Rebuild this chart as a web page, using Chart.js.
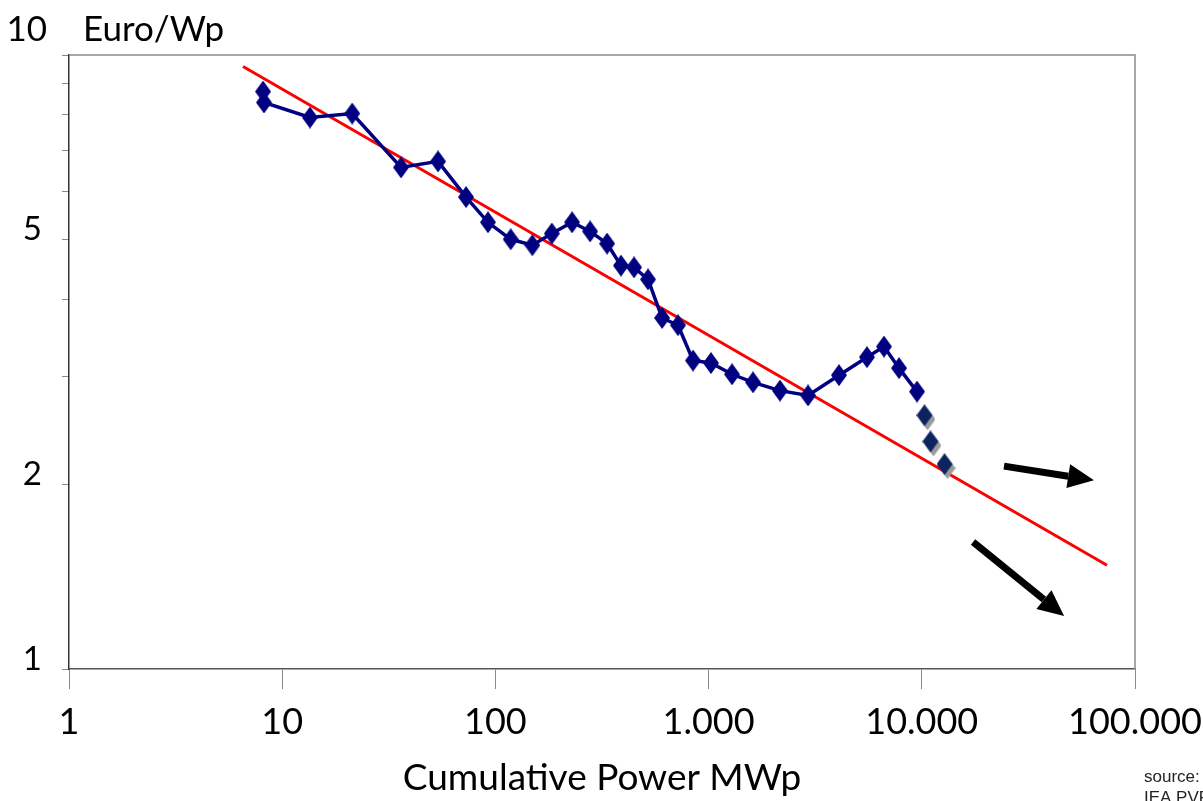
<!DOCTYPE html>
<html>
<head>
<meta charset="utf-8">
<script src="https://cdn.jsdelivr.net/npm/chart.js@4"></script>
<style>
  body { margin: 0; background: #fff; }
  #wrap { width: 1203px; height: 801px; }
</style>
</head>
<body>
<div id="wrap"><canvas id="chart" width="1203" height="801"></canvas></div>
<script>
// axis ticks
const xTicks = [1, 10, 100, 1000, 10000, 100000];
const xTickLabels = ['1', '10', '100', '1.000', '10.000', '100.000'];
const yTicks = [1, 2, 3, 4, 5, 6, 7, 8, 9, 10];
const yTickLabels = ['1', '2', '', '', '5', '', '', '', '', ''];

// measured prices (cumulative MWp vs Euro/Wp)
const power = [8.13, 8.21, 13.5, 21.3, 36.1, 53.8, 72.8, 92.3, 118, 149, 184, 229, 278, 334, 388,
  447, 520, 605, 719, 845, 1026, 1288, 1616, 2162, 2926, 4089, 5533, 6648, 7818, 9496];
const price = [8.72, 8.37, 7.91, 8.03, 6.56, 6.71, 5.87, 5.34, 5.01, 4.90, 5.12, 5.34, 5.16, 4.93, 4.54,
  4.51, 4.31, 3.73, 3.63, 3.18, 3.15, 3.02, 2.93, 2.84, 2.79, 3.01, 3.22, 3.35, 3.09, 2.83];

// latest points, not joined
const projPower = [10460, 11160, 12990];
const projPrice = [2.57, 2.33, 2.14];

// learning curve fit
const fitPower = [6.55, 73900];
const fitPrice = [9.58, 1.476];

// arrows [fromX, fromY, toX, toY] in data units
const arrows = [
  [24300, 2.14, 64200, 2.03],
  [17400, 1.61, 46500, 1.22]
];

function diamond(color, shadow) {
  const w = 16, h = 22;
  const c = document.createElement('canvas');
  c.width = shadow ? w + 3 : w;
  c.height = shadow ? h + 4 : h;
  const g = c.getContext('2d');
  const draw = (dx, dy, col) => {
    g.fillStyle = col;
    g.beginPath();
    g.moveTo(dx + w / 2, dy);
    g.lineTo(dx + w, dy + h / 2);
    g.lineTo(dx + w / 2, dy + h);
    g.lineTo(dx, dy + h / 2);
    g.closePath();
    g.fill();
  };
  if (shadow) draw(3, 4, '#9a9a9a');
  draw(0, 0, color);
  return c;
}

const frame = {
  id: 'frame',
  afterDraw(chart) {
    const ctx = chart.ctx;
    const a = chart.chartArea;
    const xs = chart.scales.x, ys = chart.scales.y;
    ctx.save();
    ctx.strokeStyle = '#8a8a8a';
    ctx.lineWidth = 1.5;
    ctx.beginPath();
    ctx.moveTo(a.left, a.top);
    ctx.lineTo(a.right, a.top);
    ctx.lineTo(a.right, a.bottom);
    ctx.stroke();

    ctx.fillStyle = '#000';
    ctx.strokeStyle = '#000';
    arrows.forEach(r => {
      const x1 = xs.getPixelForValue(r[0]), y1 = ys.getPixelForValue(r[1]);
      const x2 = xs.getPixelForValue(r[2]), y2 = ys.getPixelForValue(r[3]);
      const ang = Math.atan2(y2 - y1, x2 - x1);
      const hl = 26, hw = 12;
      const bx = x2 - hl * Math.cos(ang), by = y2 - hl * Math.sin(ang);
      ctx.lineWidth = 7;
      ctx.beginPath();
      ctx.moveTo(x1, y1);
      ctx.lineTo(bx, by);
      ctx.stroke();
      ctx.beginPath();
      ctx.moveTo(x2, y2);
      ctx.lineTo(bx + hw * Math.sin(ang), by - hw * Math.cos(ang));
      ctx.lineTo(bx - hw * Math.sin(ang), by + hw * Math.cos(ang));
      ctx.closePath();
      ctx.fill();
    });

    // top label with unit
    const y10 = ys.getPixelForValue(10) - 25;
    ctx.font = '35px Lato';
    ctx.textBaseline = 'middle';
    ctx.textAlign = 'right';
    ctx.fillText('10', 47, y10);
    ctx.textAlign = 'left';
    ctx.fillText('Euro/Wp', 83, y10);

    ctx.font = '17px "Liberation Sans"';
    ctx.fillStyle = '#222';
    ctx.fillText('source:', 1144, 777);
    ctx.fillText('IEA PVPS', 1144, 798);
    ctx.restore();
  }
};

new Chart(document.getElementById('chart'), {
  type: 'scatter',
  data: {
    datasets: [
      {
        data: fitPower.map((v, i) => ({ x: v, y: fitPrice[i] })),
        showLine: true,
        borderColor: '#ff0000',
        borderWidth: 3,
        pointRadius: 0,
        order: 2
      },
      {
        data: power.map((v, i) => ({ x: v, y: price[i] })),
        showLine: true,
        borderColor: '#000080',
        borderWidth: 3.5,
        pointStyle: diamond('#000080', false),
        pointRadius: 8,
        order: 1
      },
      {
        data: projPower.map((v, i) => ({ x: v, y: projPrice[i] })),
        showLine: false,
        pointStyle: diamond('#0d2360', true),
        pointRadius: 8,
        order: 0
      }
    ]
  },
  options: {
    responsive: false,
    animation: false,
    layout: { padding: { top: 55, right: 68, left: 0, bottom: 0 } },
    plugins: { legend: { display: false }, tooltip: { enabled: false } },
    scales: {
      x: {
        type: 'logarithmic',
        min: 1,
        max: 100000,
        afterBuildTicks: s => { s.ticks = xTicks.map(v => ({ value: v })); },
        afterFit: s => { s.height = 132; s.paddingLeft = 0; s.paddingRight = 0; },
        grid: { drawOnChartArea: false, drawTicks: true, tickLength: 20, color: '#8a8a8a' },
        border: { color: '#555', width: 1.5 },
        ticks: {
          autoSkip: false,
          maxRotation: 0,
          padding: 12,
          color: '#000',
          font: { family: 'Lato', size: 36 },
          callback: v => xTickLabels[xTicks.indexOf(v)]
        },
        title: {
          display: true,
          text: 'Cumulative Power MWp',
          color: '#000',
          font: { family: 'Lato', size: 37 },
          padding: { top: 0, bottom: 1 }
        }
      },
      y: {
        type: 'logarithmic',
        min: 1,
        max: 10,
        afterBuildTicks: s => { s.ticks = yTicks.map(v => ({ value: v })); },
        afterFit: s => { s.width = 69; },
        grid: { drawOnChartArea: false, drawTicks: true, tickLength: 7, color: '#8a8a8a' },
        border: { color: '#333', width: 1.5 },
        ticks: {
          autoSkip: false,
          padding: 20,
          labelOffset: -10,
          color: '#000',
          font: { family: 'Lato', size: 33 },
          callback: v => yTickLabels[yTicks.indexOf(v)]
        }
      }
    }
  },
  plugins: [frame]
});
</script>
</body>
</html>
